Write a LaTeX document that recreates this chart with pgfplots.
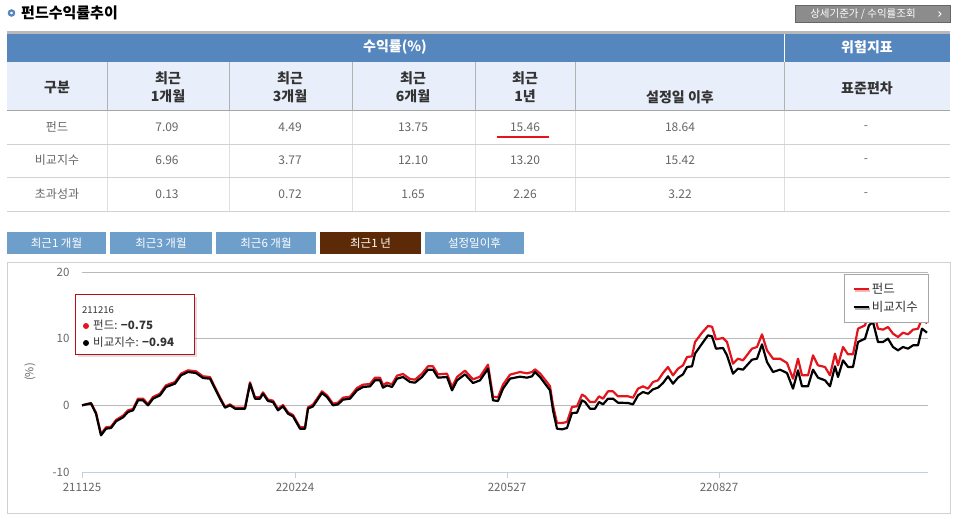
\documentclass[border=0pt]{standalone}
\usepackage{fontspec}
\setmainfont{Noto Sans CJK KR}
\usepackage{pgfplots}
\pgfplotsset{compat=1.18}
\usetikzlibrary{shadows}
\definecolor{hdrblue}{HTML}{5586BE}
\definecolor{hdrlav}{HTML}{E8EEFA}
\definecolor{tabblue}{HTML}{6E9FCB}
\definecolor{tabbrown}{HTML}{5C2A06}
\definecolor{txtdark}{HTML}{333333}
\definecolor{txtgray}{HTML}{666666}
\definecolor{fundred}{HTML}{E3141B}
\definecolor{axisblue}{HTML}{C0D0E0}
\definecolor{btngray}{HTML}{8C8C8C}
\newcommand{\fs}[1]{\fontsize{#1}{#1}\selectfont}
\begin{document}
\begin{tikzpicture}[x=1pt,y=1pt]
\path[use as bounding box] (0,0) rectangle (970,-530);
\fill[white] (0,0) rectangle (970,-530);
% title
\draw[hdrblue, line width=2.2] (11.5,-13) circle (2.6);
\node[anchor=west, inner sep=0, text=black] at (21,-13) {\fs{15}\bfseries 펀드수익률추이};
% top-right button
\fill[btngray] (795,-5) rectangle (951,-23);
\draw[gray!80!black] (795.5,-5.5) rectangle (950.5,-22.5);
\node[text=white, inner sep=0] at (863,-14) {\fs{10.5}상세기준가 / 수익률조회};
\draw[white, line width=0.9] (938.5,-11.5) -- (941,-14) -- (938.5,-16.5);
% table header
\fill[gray!55] (7,-31) rectangle (950,-34);
\fill[hdrblue] (7,-34) rectangle (950,-62);
\draw[white, line width=1] (784,-34) -- (784,-62);
\node[text=white, inner sep=0] at (395,-47.5) {\fs{14}\bfseries 수익률(\%)};
\node[text=white, inner sep=0] at (867,-47.5) {\fs{14}\bfseries 위험지표};
\fill[hdrlav] (7,-62) rectangle (950,-110);
\foreach \xx in {107,229,352,475,575,784} {
  \draw[gray!60, line width=0.8] (\xx,-62) -- (\xx,-110);
  \draw[gray!25, line width=0.8] (\xx,-111) -- (\xx,-211);
}
\draw[gray!70, line width=1] (7,-110.5) -- (950,-110.5);
\foreach \yy in {144,177,211} { \draw[gray!35, line width=0.8] (7,-\yy) -- (950,-\yy); }
\begin{scope}[every node/.style={text=txtdark, inner sep=0, align=center, font=\fs{14}\bfseries}]
\node at (57,-87) {구분};
\node at (168,-87) {최근\\[4pt]1개월};
\node at (290,-87) {최근\\[4pt]3개월};
\node at (413,-87) {최근\\[4pt]6개월};
\node at (525,-87) {최근\\[4pt]1년};
\node at (680,-97) {설정일 이후};
\node at (867,-88) {표준편차};
\end{scope}
\begin{scope}[every node/.style={text=txtgray, inner sep=0, font=\fs{12}}]
\node at (57,-127) {펀드};
\node at (167,-127) {7.09};
\node at (290,-127) {4.49};
\node at (413,-127) {13.75};
\node at (525,-127) {15.46};
\node at (680,-127) {18.64};
\node at (866,-128) {-};
\node at (57,-160) {비교지수};
\node at (167,-160) {6.96};
\node at (290,-160) {3.77};
\node at (413,-160) {12.10};
\node at (525,-160) {13.20};
\node at (680,-160) {15.42};
\node at (866,-161) {-};
\node at (57,-194) {초과성과};
\node at (167,-194) {0.13};
\node at (290,-194) {0.72};
\node at (413,-194) {1.65};
\node at (525,-194) {2.26};
\node at (680,-194) {3.22};
\node at (866,-195) {-};
\end{scope}
\draw[fundred, line width=2] (497,-137) -- (549,-137);
% tabs
\foreach \xa/\xb/\lab/\col in {7/106/최근1 개월/tabblue,110/212/최근3 개월/tabblue,216/316/최근6 개월/tabblue,320/421/최근1 년/tabbrown,425/524/설정일이후/tabblue} {
  \fill[\col] (\xa,-232) rectangle (\xb,-254);
  \node[text=white, inner sep=0] at ({(\xa+\xb)/2},-243) {\fs{11.5}\lab};
}
% chart frame
\draw[gray!35, line width=1] (7.5,-262.5) rectangle (950.5,-513.5);
\node[rotate=90, text=txtgray, inner sep=0] at (30,-372) {\fs{11}(\%)};
\begin{axis}[
  at={(82pt,-472pt)}, anchor=south west,
  scale only axis, width=846pt, height=200pt,
  xmin=82, xmax=928, ymin=-10, ymax=20,
  axis lines*=left,
  y axis line style={draw=none},
  x axis line style={draw=axisblue, line width=1pt, -},
  xtick={82,295,507,719},
  xticklabels={211125,220224,220527,220827},
  ytick={-10,0,10,20},
  ymajorgrids, grid style={draw=gray!55, line width=0.8pt},
  ytick style={draw=none},
  xtick style={draw=axisblue, line width=1pt},
  xtick align=outside, major tick length=6pt,
  tick label style={text=txtgray, font=\fs{11.5}},
  /pgf/number format/assume math mode=true,
  yticklabel style={xshift=-9pt},
  xticklabel style={yshift=-2pt},
  clip=false,
  legend style={at={(1.0,0.99)}, anchor=north east, draw=gray!70, fill=white,
    drop shadow={shadow xshift=1.5pt, shadow yshift=-1.5pt, opacity=0.3},
    font=\fs{12.5}, text=txtdark, row sep=2pt, inner xsep=8pt, inner ysep=7pt},
  legend cell align=left,
  legend image code/.code={\draw[#1, line width=2.2pt] (0pt,0pt) -- (15pt,0pt);},
]
\addplot[fundred, line width=2.2pt, line join=round] coordinates {
(82,0) (91,0.35) (96,-1.1) (101,-4.3) (106,-3.3) (111,-3.2) (116,-2.2) (123,-1.55) (128,-0.75) (133,-0.55)
(138,1.0) (143,1.0) (148,0.2) (153,1.25) (160,1.75) (166,3.0) (175,3.5) (181,4.75) (188,5.25) (196,5.1)
(203,4.35) (210,4.25) (215,2.7) (220,1.2) (225,-0.2) (230,0.15) (235,-0.35) (245,-0.35) (250,3.45) (255,1.2)
(260,1.2) (263,1.95) (268,0.85) (273,0.7) (278,-0.55) (283,0.05) (288,-1.05) (293,-1.45) (300,-3.3) (305,-3.3)
(308,-0.3) (313,0.1) (322,2.1) (327,1.5) (333,0.25) (338,0.4) (343,1.15) (350,1.3) (357,2.6) (363,3.1)
(370,3.2) (375,4.15) (380,4.15) (383,3.05) (387,3.4) (392,3.15) (397,4.45) (403,4.7) (410,3.95) (415,3.85)
(422,4.75) (428,5.85) (433,5.85) (438,4.65) (447,4.75) (452,2.75) (457,4.25) (465,5.2) (473,3.9) (480,4.3)
(488,6.1) (493,1.3) (498,1.2) (503,3.1) (510,4.6) (520,5.0) (527,4.8) (532,5.0) (535,5.4) (540,4.8)
(545,3.85) (550,2.85) (553,0.0) (557,-2.65) (562,-2.65) (567,-2.5) (572,-0.25) (577,-0.15) (582,1.6) (585,1.35)
(590,0.5) (595,0.5) (599,1.35) (603,1.0) (608,2.1) (613,2.1) (618,1.35) (628,1.35) (633,1.15) (638,2.5)
(643,2.85) (648,2.5) (653,3.5) (658,3.75) (663,4.85) (668,5.75) (673,4.5) (678,5.5) (683,6.0) (687,7.25)
(692,7.35) (695,9.5) (702,10.9) (708,11.9) (712,11.8) (716,9.9) (723,10.1) (727,9.5) (733,6.25) (738,7.0)
(743,6.75) (752,8.5) (757,8.75) (762,10.65) (767,8.25) (773,7.0) (780,7.0) (787,6.35) (793,4.0) (798,7.0)
(802,4.5) (808,4.5) (813,7.5) (818,6.0) (825,5.75) (830,4.5) (835,7.75) (838,6.0) (843,8.75) (848,7.65)
(853,7.65) (858,11.5) (865,12.0) (869,14.0) (873,14.5) (878,11.5) (883,11.35) (888,11.75) (893,10.75) (898,10.25)
(903,10.9) (908,10.65) (913,11.35) (918,11.5) (922,13.0) (927,12.3)
};
\addlegendentry{펀드}
\addplot[black, line width=2.2pt, line join=round] coordinates {
(82,0) (91,0.3) (96,-1.25) (101,-4.5) (106,-3.5) (111,-3.4) (116,-2.4) (123,-1.8) (128,-1.0) (133,-0.75)
(138,0.75) (143,0.75) (148,0) (153,1.0) (160,1.5) (166,2.75) (175,3.25) (181,4.5) (188,5.0) (196,4.85)
(203,4.1) (210,4.0) (215,2.5) (220,1.0) (225,-0.35) (230,0) (235,-0.5) (245,-0.5) (250,3.25) (255,1.0)
(260,1.0) (263,1.75) (268,0.65) (273,0.5) (278,-0.75) (283,-0.15) (288,-1.25) (293,-1.65) (300,-3.5) (305,-3.5)
(308,-0.5) (313,-0.15) (322,1.85) (327,1.25) (333,0) (338,0.15) (343,0.85) (350,1.0) (357,2.25) (363,2.75)
(370,2.85) (375,3.75) (380,3.75) (383,2.65) (387,3.0) (392,2.75) (397,4.0) (403,4.25) (410,3.5) (415,3.4)
(422,4.25) (428,5.35) (433,5.35) (438,4.15) (447,4.25) (452,2.25) (457,3.75) (465,4.65) (473,3.35) (480,3.75)
(488,5.5) (493,0.75) (498,0.65) (503,2.5) (510,4.0) (520,4.3) (527,4.15) (532,4.35) (535,5.0) (540,4.25)
(545,3.25) (550,2.25) (553,-0.75) (557,-3.5) (562,-3.6) (567,-3.4) (572,-1.15) (577,-1.1) (582,0.75) (585,0.5)
(590,-0.5) (595,-0.5) (599,0.5) (603,0.15) (608,1.0) (613,1.0) (618,0.4) (628,0.35) (633,0.15) (638,1.5)
(643,2.0) (648,1.75) (653,2.4) (658,2.65) (663,3.35) (668,4.35) (673,3.25) (678,4.15) (683,4.65) (687,5.75)
(692,5.85) (695,7.75) (702,9.25) (708,10.5) (712,10.35) (716,8.5) (723,8.6) (727,7.5) (733,4.75) (738,5.5)
(743,5.35) (752,6.85) (757,7.0) (762,9.15) (767,6.5) (773,5.0) (780,5.35) (787,4.85) (793,2.5) (798,5.25)
(802,2.85) (808,2.85) (813,5.35) (818,4.15) (825,3.75) (830,2.85) (835,5.85) (838,4.25) (843,6.75) (848,5.75)
(853,5.75) (858,9.5) (865,10.0) (869,12.0) (873,12.5) (878,9.5) (883,9.5) (888,10.0) (893,8.75) (898,8.25)
(903,8.75) (908,8.5) (913,9.0) (918,9.0) (922,11.5) (927,10.9)
};
\addlegendentry{비교지수}
\end{axis}
% tooltip
\fill[black, opacity=0.12] (77.5,-296.5) rectangle (196.5,-356.5);
\draw[draw=fundred!80!black, fill=white, line width=1] (75.5,-294.5) rectangle (194.5,-354.5);
\node[anchor=west, inner sep=0, text=txtdark] at (82,-310) {\fs{9.5}211216};
\fill[fundred] (86,-326) circle (3);
\fill[black] (86,-343) circle (3);
\node[anchor=west, inner sep=0, text=txtdark] at (93,-325) {\fs{11.5}펀드: \textbf{−0.75}};
\node[anchor=west, inner sep=0, text=txtdark] at (93,-342) {\fs{11.5}비교지수: \textbf{−0.94}};
\end{tikzpicture}
\end{document}
